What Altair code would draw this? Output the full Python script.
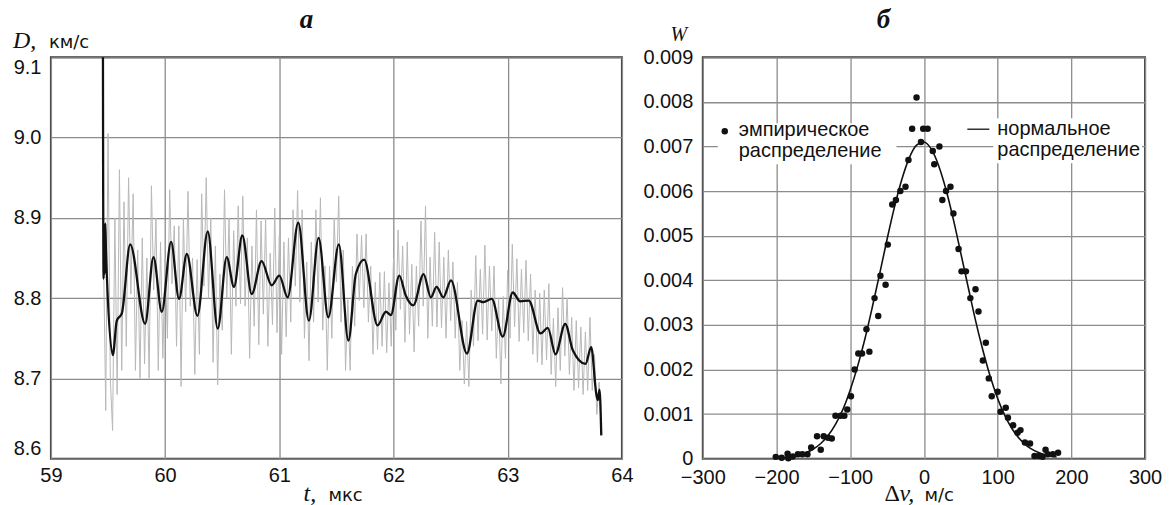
import altair as alt
import pandas as pd

# ---------------- panel a: detonation velocity trace ----------------
trace_t0 = 59.46          # first sample of the raw (grey) record, us
trace_dt = 0.02           # sampling step of the record, us
trace_D = [
    8.86, 8.66, 9.005, 8.70, 8.635, 8.90, 8.68, 8.96, 8.71, 8.92,
    8.74, 8.95, 8.805, 8.93, 8.71, 8.86, 8.70, 8.875, 8.718, 8.85,
    8.70, 8.94, 8.81, 8.90, 8.71, 8.87, 8.725, 8.85, 8.75, 8.935,
    8.818, 8.89, 8.74, 8.89, 8.69, 8.90, 8.783, 8.933, 8.79, 8.85,
    8.705, 8.848, 8.73, 8.93, 8.815, 8.95, 8.80, 8.90, 8.72, 8.865,
    8.692, 8.83, 8.76, 8.935, 8.80, 8.90, 8.73, 8.884, 8.79, 8.915,
    8.793, 8.927, 8.79, 8.875, 8.725, 8.865, 8.765, 8.91, 8.742, 8.896,
    8.78, 8.90, 8.74, 8.856, 8.767, 8.912, 8.757, 8.878, 8.73, 8.87,
    8.752, 8.875, 8.77, 8.91, 8.815, 8.934, 8.795, 8.91, 8.75, 8.845,
    8.722, 8.87, 8.77, 8.91, 8.795, 8.925, 8.76, 8.84, 8.71, 8.84,
    8.75, 8.90, 8.82, 8.927, 8.77, 8.86, 8.71, 8.798, 8.71, 8.84,
    8.765, 8.88, 8.797, 8.878, 8.788, 8.88, 8.77, 8.84, 8.73, 8.82,
    8.736, 8.832, 8.74, 8.833, 8.732, 8.819, 8.74, 8.85, 8.76, 8.885,
    8.786, 8.865, 8.745, 8.87, 8.755, 8.842, 8.733, 8.84, 8.765, 8.896,
    8.79, 8.915, 8.75, 8.851, 8.765, 8.882, 8.764, 8.87, 8.763, 8.851,
    8.75, 8.86, 8.772, 8.845, 8.75, 8.82, 8.71, 8.772, 8.693, 8.771,
    8.69, 8.81, 8.74, 8.853, 8.747, 8.836, 8.755, 8.866, 8.748, 8.84,
    8.759, 8.84, 8.725, 8.80, 8.693, 8.802, 8.725, 8.835, 8.75, 8.867,
    8.764, 8.849, 8.746, 8.836, 8.757, 8.847, 8.747, 8.83, 8.73, 8.81,
    8.72, 8.806, 8.717, 8.81, 8.723, 8.818, 8.705, 8.775, 8.69, 8.788,
    8.71, 8.813, 8.728, 8.80, 8.705, 8.776, 8.685, 8.772, 8.688, 8.764,
    8.68, 8.758, 8.685, 8.776, 8.685, 8.73, 8.655, 8.695, 8.63,
]
trace_t = [round(trace_t0 + trace_dt * i, 2) for i in range(len(trace_D))]

smooth_t = [59.455, 59.457, 59.461, 59.466, 59.471, 59.476, 59.482,
            59.542, 59.577, 59.621, 59.694, 59.825, 59.898, 59.971,
            60.052, 60.122, 60.19, 60.283, 60.373, 60.461, 60.539, 60.603,
            60.676, 60.758, 60.845, 60.933,
            61.0, 61.073, 61.166, 61.259, 61.344, 61.429, 61.521, 61.605,
            61.67, 61.743, 61.86, 61.933, 61.977,
            62.05, 62.108, 62.173, 62.263, 62.327, 62.377, 62.436, 62.503,
            62.643, 62.737, 62.787, 62.86, 62.956,
            63.044, 63.108, 63.184, 63.287, 63.351, 63.418, 63.503, 63.570,
            63.681, 63.731, 63.775, 63.789, 63.804, 63.819]
smooth_D = [9.15, 8.98, 8.824, 8.893, 8.83, 8.893, 8.86,
            8.729, 8.772, 8.781, 8.867, 8.768, 8.851, 8.783,
            8.870, 8.799, 8.855, 8.778, 8.883, 8.762, 8.851, 8.814,
            8.878, 8.805, 8.846, 8.816,
            8.828, 8.801, 8.894, 8.772, 8.875, 8.776, 8.867, 8.747,
            8.83, 8.848, 8.766, 8.783, 8.779,
            8.828, 8.803, 8.791, 8.830, 8.801, 8.814, 8.801, 8.822,
            8.731, 8.797, 8.795, 8.799, 8.752,
            8.807, 8.796, 8.797, 8.756, 8.763, 8.730, 8.768, 8.735,
            8.718, 8.739, 8.681, 8.673, 8.686, 8.629]

left_x_ticks = [59, 60, 61, 62, 63, 64]
left_y_ticks = [8.6, 8.7, 8.8, 8.9, 9.0, 9.1]

# ---------------- panel б: distribution of velocity deviations ----------------
emp_dv = [-201, -193, -185, -184, -178, -171, -165, -158, -153, -145,
          -140, -136, -130, -125, -120, -113, -108, -104, -99, -94,
          -89, -84, -78, -74, -67, -62, -59, -52, -49, -43,
          -38, -32, -25, -21, -16, -10, -4, -1, 5, 12,
          14, 21, 25, 30, 36, 40, 47, 51, 57, 63,
          70, 74, 80, 84, 88, 92, 100, 104, 111, 114,
          121, 127, 131, 137, 144, 150, 156, 161, 165, 168,
          175, 182]
emp_w = [0.00004, 0.00002, 0.00011, 0.00001, 0.00005, 0.0001, 0.0001, 0.0001, 0.00025, 0.0005,
         0.0002, 0.0005, 0.00047, 0.00045, 0.00096, 0.00096, 0.00096, 0.0011, 0.0014, 0.002,
         0.00236, 0.00236, 0.0029, 0.0024, 0.0036, 0.0032, 0.0041, 0.0039, 0.0048, 0.0057,
         0.0058, 0.0060, 0.0061, 0.0067, 0.0074, 0.0081, 0.0071, 0.0074, 0.0074, 0.0069,
         0.0066, 0.0070, 0.0058, 0.0060, 0.0061, 0.0055, 0.0047, 0.0042, 0.0042, 0.0036,
         0.0038, 0.0033, 0.0022, 0.0026, 0.0018, 0.0014, 0.0015, 0.00105, 0.00114, 0.00092,
         0.00075, 0.00058, 0.00064, 0.00036, 0.00034, 0.00006, 0.00006, 0.00004, 0.0002, 0.0001,
         0.0001, 0.00013]

norm_dv = [-200, -190, -180, -170, -160, -150, -140, -130, -120, -110,
           -100, -90, -80, -70, -60, -50, -40, -30, -20, -10,
           0, 10, 20, 30, 40, 50, 60, 70, 80, 90,
           100, 110, 120, 130, 140, 150, 160, 170, 180]
norm_w = [0.000014, 0.000025, 0.000045, 0.000079, 0.000133, 0.000216, 0.00034, 0.00052, 0.00077, 0.0011,
          0.00154, 0.00207, 0.00269, 0.0034, 0.00415, 0.00492, 0.00564, 0.00626, 0.00674, 0.00703,
          0.0071, 0.00694, 0.00657, 0.00603, 0.00536, 0.00461, 0.00385, 0.0031, 0.00243, 0.00184,
          0.00135, 0.00096, 0.00066, 0.00044, 0.00028, 0.00018, 0.00011, 0.000064, 0.000036]

right_x_ticks = [-300, -200, -100, 0, 100, 200, 300]
right_y_ticks = [0, 0.001, 0.002, 0.003, 0.004, 0.005, 0.006, 0.007, 0.008, 0.009]

legend_labels = ["эмпирическое", "распределение", "нормальное", "распределение"]

assert len(smooth_t) == len(smooth_D)
assert len(emp_dv) == len(emp_w)
assert len(norm_dv) == len(norm_w)

# ---------------- styling ----------------
SANS = "Liberation Sans"
UNIT = "DejaVu Sans"
SERIF = "Liberation Serif"
INK = "#111111"
LW, LH = 572, 402
RW, RH = 443, 402

axis_common = dict(grid=True, gridColor="#8c8c8c", gridWidth=1.3, domain=False,
                   ticks=False, labelFont=SANS, labelFontSize=20, labelColor=INK,
                   title=None)


def one_row():
    return pd.DataFrame({"k": [0]})


def txt(text, x, y, font=SANS, size=20, style="normal", weight="normal", align="left"):
    return alt.Chart(pd.DataFrame({"txt": [text]})).mark_text(
        font=font, fontSize=size, fontStyle=style, fontWeight=weight,
        align=align, baseline="alphabetic", color=INK
    ).encode(x=alt.value(x), y=alt.value(y), text="txt:N")


def frame_box(x1, x2, y1, y2):
    return alt.Chart(one_row()).mark_rect(opacity=0).encode(
        x=alt.value(x1), x2=alt.value(x2), y=alt.value(y1), y2=alt.value(y2))


# ---------------- panel a ----------------
lx = alt.X("t:Q", scale=alt.Scale(domain=[59, 64], nice=False, zero=False),
           axis=alt.Axis(values=left_x_ticks, format="d", labelPadding=7,
                         labelFlush=False, **axis_common))
ly = alt.Y("D:Q", scale=alt.Scale(domain=[8.6, 9.1], nice=False, zero=False),
           axis=alt.Axis(values=left_y_ticks, format=".1f", labelPadding=10,
                         labelFlush=True, **axis_common))

grey = alt.Chart(pd.DataFrame({"t": trace_t, "D": trace_D})).mark_line(
    stroke="#b8b8b8", strokeWidth=1, clip=True).encode(x=lx, y=ly)
black = alt.Chart(pd.DataFrame({"t": smooth_t, "D": smooth_D})).mark_line(
    stroke=INK, strokeWidth=2.3, interpolate="monotone", clip=True).encode(x="t:Q", y="D:Q")

left = alt.layer(
    frame_box(-50, 0, -56, 0),
    grey, black,
    txt("а", 256, -29, font=SERIF, size=27, style="italic", weight="bold", align="center"),
    txt("D,", -38, -9, font=SERIF, size=24, style="italic"),
    txt("км/с", -2, -9, font=UNIT, size=18),
    txt("t,", 253, 444, font=SERIF, size=24, style="italic"),
    txt("мкс", 278, 444, font=UNIT, size=18),
).properties(width=LW, height=LH)

# ---------------- panel б ----------------
rx = alt.X("dv:Q", scale=alt.Scale(domain=[-300, 300], nice=False, zero=False),
           axis=alt.Axis(values=right_x_ticks, format="d", labelPadding=9,
                         labelFlush=False, **axis_common))
ry = alt.Y("w:Q", scale=alt.Scale(domain=[0, 0.009], nice=False, zero=False),
           axis=alt.Axis(values=right_y_ticks, labelPadding=10, labelFlush=False,
                         labelExpr="datum.value == 0 ? '0' : format(datum.value, '.3f')",
                         **axis_common))

curve = alt.Chart(pd.DataFrame({"dv": norm_dv, "w": norm_w})).mark_line(
    stroke=INK, strokeWidth=1.6, interpolate="monotone", clip=True).encode(x=rx, y=ry)
dots = alt.Chart(pd.DataFrame({"dv": emp_dv, "w": emp_w})).mark_circle(
    size=42, color=INK, opacity=1).encode(x="dv:Q", y="w:Q")

white_l = alt.Chart(one_row()).mark_rect(fill="white").encode(
    x=alt.value(15), x2=alt.value(194), y=alt.value(66), y2=alt.value(107))
white_r = alt.Chart(one_row()).mark_rect(fill="white").encode(
    x=alt.value(291), x2=alt.value(440), y=alt.value(61), y2=alt.value(106))
leg_dot = alt.Chart(one_row()).mark_circle(size=42, color=INK, opacity=1).encode(
    x=alt.value(22), y=alt.value(74))
leg_line = alt.Chart(one_row()).mark_rule(color=INK, strokeWidth=1.3).encode(
    x=alt.value(265), x2=alt.value(287), y=alt.value(72))

right = alt.layer(
    frame_box(0, 469, 0, 449),
    white_l, white_r, curve, dots, leg_dot, leg_line,
    txt(legend_labels[0], 36, 79),
    txt(legend_labels[1], 36, 100),
    txt(legend_labels[2], 295, 78),
    txt(legend_labels[3], 295, 99),
    txt("б", 181, -29, font=SERIF, size=27, style="italic", weight="bold", align="center"),
    txt("W", -24, -16, font=SERIF, size=20, style="italic", align="center"),
    txt("Δ", 182, 444, font=SERIF, size=24),
    txt("v,", 197, 444, font=SERIF, size=24, style="italic"),
    txt("м/с", 222, 444, font=UNIT, size=18),
).properties(width=RW, height=RH)

chart = alt.hconcat(left, right, spacing=81, bounds="flush").properties(
    padding=0, background="white"
).configure_view(stroke="#3a3a3a", strokeWidth=2)

chart.save("out.html", embed_options={"renderer": "svg", "actions": False})
